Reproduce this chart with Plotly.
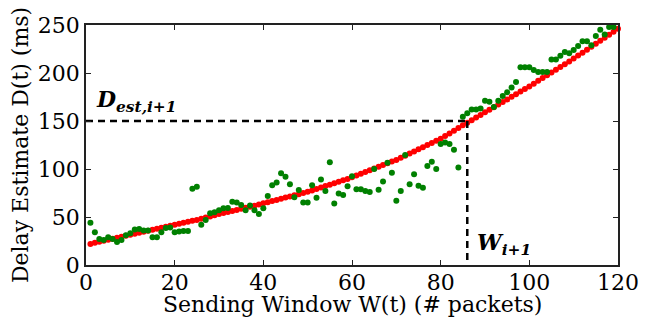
import plotly.graph_objects as go

# Sending window (packets)
window = list(range(1, 121))

# Red: model delay estimate (ms)
model_delay = [
    22.0, 23.1, 24.1, 25.2, 26.2, 27.3, 28.4, 29.4, 30.5, 31.5,
    32.6, 33.6, 34.7, 35.7, 36.8, 37.8, 38.9, 39.9, 41.0, 42.0,
    43.0, 44.0, 45.0, 46.0, 47.0, 48.2, 49.4, 50.6, 51.8, 53.0,
    54.1, 55.2, 56.3, 57.4, 58.5, 59.6, 60.7, 61.8, 62.9, 64.2,
    65.4, 66.6, 67.8, 69.0, 70.2, 71.4, 72.6, 73.8, 75.0, 76.2,
    77.7, 79.2, 80.7, 82.2, 83.7, 85.2, 86.7, 88.2, 89.7, 91.5,
    93.3, 95.1, 96.9, 98.7, 100.5, 102.3, 104.1, 105.9, 107.7, 109.5,
    111.7, 113.9, 116.1, 118.3, 120.5, 122.7, 124.9, 127.1, 129.3, 131.5,
    134.3, 137.1, 139.9, 142.7, 145.5, 148.2, 150.9, 153.6, 156.3, 159.0,
    161.7, 164.4, 167.1, 169.8, 172.5, 175.2, 177.9, 180.6, 183.3, 186.0,
    188.9, 191.8, 194.7, 197.6, 200.5, 203.4, 206.3, 209.2, 212.1, 215.0,
    218.1, 221.2, 224.3, 227.4, 230.5, 233.6, 236.7, 239.8, 242.9, 246.0,
]

# Green: measured delay (ms), windows 1..119
measured_window = list(range(1, 120))
measured_delay = [
    44, 34, 27, 26, 29, 27, 24, 26, 31, 33,
    37, 37.5, 36, 36, 29, 29, 34, 38.5, 39, 34,
    35, 35.5, 35.5, 79.5, 81.5, 42, 47, 54, 55, 57,
    59, 59.5, 66, 65, 62.5, 57, 62, 57, 53, 59,
    72, 83, 86, 95.5, 92, 84, 70.5, 78, 65, 65,
    83, 70, 89, 77, 107, 64, 74.5, 73, 82, 92.5,
    79, 79, 77, 76, 100, 78.5, 87, 106.5, 96, 67,
    77, 114.5, 84, 94.5, 82.5, 80.5, 103, 107.5, 100, 126,
    127.5, 126, 120, 101.5, 154.5, 158, 162, 162, 163, 171,
    170, 164.5, 171, 176, 180, 185, 190.5, 206, 206, 206,
    203, 201, 201, 201, 214, 214, 218, 222, 220.5, 224,
    228, 233, 233, 229, 238.5, 245, 240, 248, 248,
]

# Operating point
w_next = 86
d_next = 150

x_ticks = [0, 20, 40, 60, 80, 100, 120]
y_ticks = [0, 50, 100, 150, 200, 250]

FONT = "DejaVu Serif"
FS = 22

fig = go.Figure()

fig.add_trace(go.Scatter(
    x=window, y=model_delay, mode="markers",
    marker=dict(color="#ff0000", size=6, line=dict(width=0)),
    showlegend=False, cliponaxis=False,
))
fig.add_trace(go.Scatter(
    x=measured_window, y=measured_delay, mode="markers",
    marker=dict(color="#008000", size=6, line=dict(width=0)),
    showlegend=False, cliponaxis=False,
))

# dashed guide lines
fig.add_trace(go.Scatter(
    x=[0, w_next], y=[d_next, d_next], mode="lines",
    line=dict(color="black", width=2.5, dash="7px,5px"),
    showlegend=False, hoverinfo="skip",
))
fig.add_trace(go.Scatter(
    x=[w_next, w_next], y=[d_next, 0], mode="lines",
    line=dict(color="black", width=2.5, dash="7px,5px"),
    showlegend=False, hoverinfo="skip",
))

fig.add_annotation(
    x=1.8, y=d_next + 3, xref="x", yref="y", xanchor="left", yanchor="bottom",
    text="<b><i>D</i></b><sub><b><i>est,i+1</i></b></sub>",
    showarrow=False, font=dict(family=FONT, size=22, color="black"),
)
fig.add_annotation(
    x=w_next + 1.8, y=22, xref="x", yref="y", xanchor="left", yanchor="middle",
    text="<b><i>W</i></b><sub><b><i>i+1</i></b></sub>",
    showarrow=False, font=dict(family=FONT, size=22, color="black"),
)
# x-axis title
fig.add_annotation(
    x=0.5, y=0, xref="paper", yref="paper", xanchor="center", yanchor="top",
    yshift=-25, text="Sending Window W(t) (# packets)", showarrow=False,
    font=dict(family=FONT, size=FS, color="black"),
)

axis_common = dict(
    showgrid=False, zeroline=False, showline=True, linecolor="#222",
    linewidth=1.5, mirror="ticks", ticks="inside", ticklen=5,
    tickwidth=1, tickcolor="#222", automargin=False,
    tickfont=dict(family=FONT, size=FS, color="black"),
)

fig.update_xaxes(
    range=[0, 120], tickvals=x_ticks, ticktext=[str(v) for v in x_ticks],
    ticklabelstandoff=-3,
    **axis_common,
)
fig.update_yaxes(
    range=[0, 250], tickvals=y_ticks, ticktext=[str(v) for v in y_ticks],
    title=dict(text="Delay Estimate D(t) (ms)",
               font=dict(family=FONT, size=FS, color="black"), standoff=4),
    **axis_common,
)

# page body adds an 8px offset; compensate so the plot area lands at 86..618 x 25..265
fig.update_layout(
    width=641, height=312,
    margin=dict(l=78, r=31, t=17, b=55, autoexpand=False),
    paper_bgcolor="white", plot_bgcolor="white",
)

fig.write_html("out.html")
